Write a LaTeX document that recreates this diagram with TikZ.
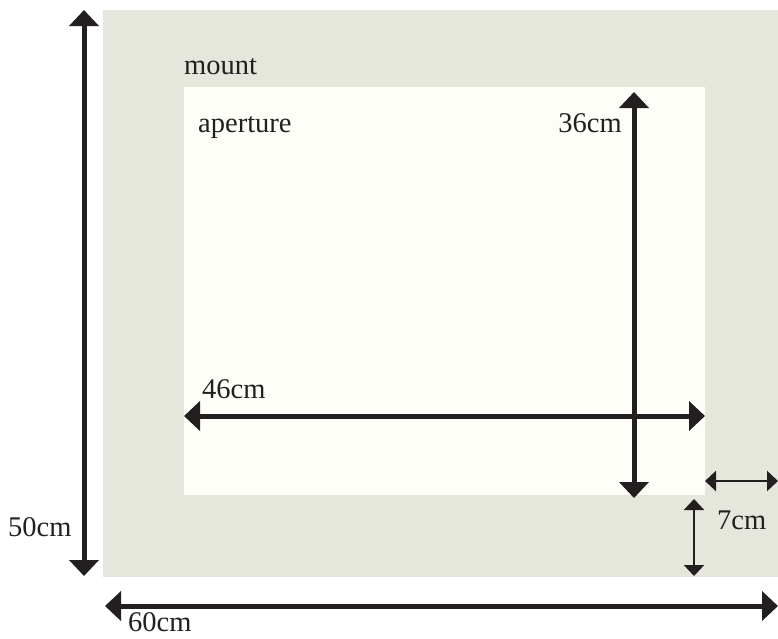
\documentclass[tikz,border=0pt]{standalone}
\usepackage{fontspec}
\setmainfont{Liberation Serif}
\usetikzlibrary{arrows.meta}
\definecolor{mountcol}{HTML}{E6E7DC}
\definecolor{apercol}{HTML}{FEFEF8}
\definecolor{ink}{HTML}{231F20}
\tikzset{
  bigdim/.style={line width=5pt,ink,{Triangle[width=29pt,length=16pt]}-{Triangle[width=29pt,length=16pt]}},
  smalldim/.style={line width=2.5pt,ink,{Triangle[width=20pt,length=11pt]}-{Triangle[width=20pt,length=11pt]}},
  lbl/.style={font=\fontsize{28.5}{30}\selectfont,text=ink,inner sep=0pt}
}
\begin{document}
\begin{tikzpicture}[x=1pt,y=-1pt]
        \useasboundingbox (0,0) rectangle (778,638);
        \fill[mountcol] (103,10) rectangle (778,577);
        \fill[apercol] (184,87) rectangle (705,495);
        % end points of the dimension lines
        \coordinate (hT) at (84,10);
        \coordinate (hB) at (84,576);
        \coordinate (wL) at (105,606);
        \coordinate (wR) at (778,606);
        \coordinate (ahT) at (634,92);
        \coordinate (ahB) at (634,498);
        \coordinate (awL) at (184,416);
        \coordinate (awR) at (705,416);
        \coordinate (bwL) at (705,481);
        \coordinate (bwR) at (778,481);
        \coordinate (bhT) at (694,499);
        \coordinate (bhB) at (694,576);
        \draw[bigdim] (hT) -- (hB);
        \draw[bigdim] (wL) -- (wR);
        \draw[bigdim] (ahT) -- (ahB);
        \draw[bigdim] (awL) -- (awR);
        \draw[smalldim] (bwL) -- (bwR);
        \draw[smalldim] (bhT) -- (bhB);
        \node[lbl,anchor=base west] (mount) at (184,74) {mount};
        \node[lbl,anchor=base west] (aperture) at (198,132) {aperture};
        \node[lbl,anchor=base east] (ah) at (622,132) {36cm};
        \node[lbl,anchor=base west] (aw) at (202,398) {46cm};
        \node[lbl,anchor=base west] (h) at (8,536) {50cm};
        \node[lbl,anchor=base west] (w) at (128,631) {60cm};
        \node[lbl,anchor=base west] (b) at (717,529) {7cm};
        \end{tikzpicture}
\end{document}
